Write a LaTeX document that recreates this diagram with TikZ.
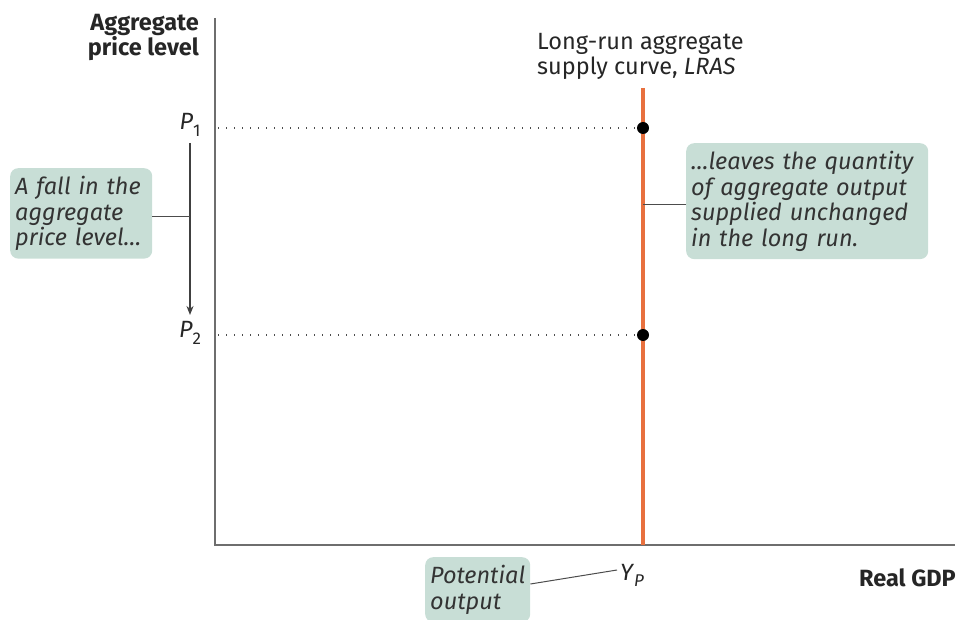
\documentclass[tikz,border=0pt]{standalone}
\usepackage{fontspec}
\setmainfont{Fira Sans}
\usetikzlibrary{arrows.meta}
\definecolor{boxfill}{RGB}{200,222,214}
\definecolor{lras}{RGB}{232,112,62}
\definecolor{axisgray}{RGB}{110,110,110}
\tikzset{
  note/.style={fill=boxfill, rounded corners=8pt, align=left, font=\fontsize{23.5}{25.5}\selectfont\itshape, inner xsep=5pt, inner ysep=8pt, text=black!80},
  lbl/.style={font=\fontsize{23.5}{25}\selectfont, text=black!85},
  bold lbl/.style={font=\fontsize{23.5}{25}\selectfont\bfseries, text=black!85},
  leader/.style={draw=black!70, line width=1pt},
  guide/.style={draw=black!70, line width=1.3pt, dash pattern=on 1pt off 7pt},
}
\begin{document}
\begin{tikzpicture}[x=1pt,y=-1pt]
\useasboundingbox (0,0) rectangle (969,620);
% axes
\coordinate (ytop) at (215,18);
\coordinate (orig) at (215,545);
\coordinate (xend) at (955,545);
\draw[axisgray, line width=1.6pt] (ytop) -- (orig) -- (xend);
% LRAS
\coordinate (ltop) at (643,88);
\coordinate (lbot) at (643,545);
\draw[lras, line width=4pt] (ltop) -- (lbot);
% points
\coordinate (a1) at (218,128);
\coordinate (a2) at (218,335);
\node[circle, fill=black, inner sep=0pt, minimum size=12pt] (d1) at (643,128) {};
\node[circle, fill=black, inner sep=0pt, minimum size=12pt] (d2) at (643,335) {};
\draw[guide] (a1) -- (d1);
\draw[guide] (a2) -- (d2);
% labels
\node[bold lbl, align=right, anchor=north east, inner sep=0pt] (ylab) at (199,14) {Aggregate\\price level};
\node[bold lbl, anchor=east, inner sep=0pt] (xlab) at (956,578) {Real GDP};
\node[lbl, align=left, anchor=north west, inner sep=0pt] (lrasl) at (537,33) {Long-run aggregate\\supply curve, \textit{LRAS}};
\node[lbl] (p1) at (190,125) {\textit{P}\raisebox{-0.5ex}{\fontsize{17}{17}\selectfont 1}};
\node[lbl] (p2) at (190,333) {\textit{P}\raisebox{-0.5ex}{\fontsize{17}{17}\selectfont 2}};
\node[lbl] (yp) at (632,575) {\textit{Y}\raisebox{-0.5ex}{\fontsize{17}{17}\selectfont\itshape P}};
% arrow
\draw[black!75, line width=1.5pt, -{Stealth[length=9pt,width=7pt]}] (190,143) -- (190,315);
% notes
\node[note, anchor=north west, text width=132pt] (n1) at (10,168) {A fall in the\\aggregate\\price level\dots};
\node[note, anchor=north west, text width=232pt] (n2) at (686,143) {\dots leaves the quantity\\of aggregate output\\supplied unchanged\\in the long run.};
\node[note, anchor=north west, text width=95pt] (n3) at (425,557) {Potential\\output};
\coordinate (c1) at (190,217);
\coordinate (c2) at (643,205);
\coordinate (c3) at (617,570);
\draw[leader] (n1.east |- c1) -- (c1);
\draw[leader] (n2.west |- c2) -- (c2);
\draw[leader] (n3.east |- 0,584) -- (c3);
\end{tikzpicture}
\end{document}
